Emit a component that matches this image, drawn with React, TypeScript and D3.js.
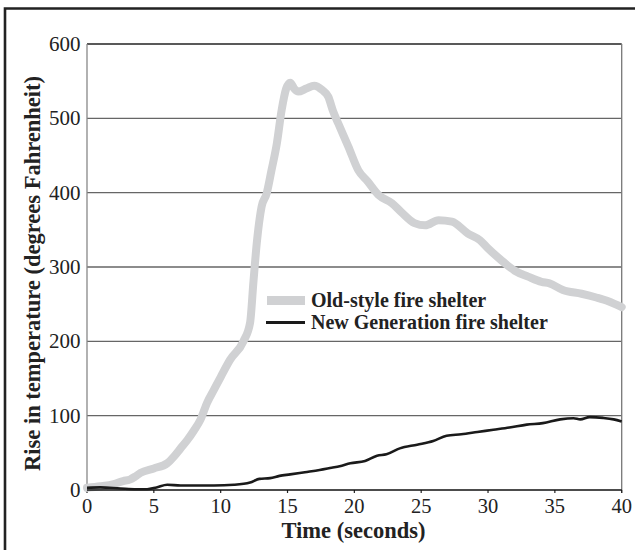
import React from "react";
import * as d3 from "d3";

const oldTime = [0, 1, 2, 2.7, 3.2, 3.6, 4, 5, 6, 6.5, 7, 7.5, 8, 8.5, 9, 9.5, 10, 10.7, 11.7, 12.2, 12.45, 12.7, 13.06, 13.44, 13.8, 14.2, 14.56, 14.9, 15.2, 15.5, 15.8, 16.4, 17.0, 17.6, 18.05, 18.4, 18.8, 19.55, 20.3, 21.0, 21.8, 22.8, 23.5, 24.5, 25.3, 26.3, 27.3, 28.5, 29.4, 30.0, 31.0, 32.0, 33.0, 34.0, 34.6, 35.6, 37, 38.1, 39.0, 40];
const oldValue = [3, 5, 8, 12, 14, 18, 23, 29, 36, 45, 56, 67, 80, 95, 118, 135, 152, 175, 200, 225, 280, 332, 381, 399, 430, 466, 511, 540, 548, 540, 536, 540, 544, 538, 529, 510, 493, 462, 430, 415, 397, 386, 374, 359, 356, 363, 361, 345, 336, 325, 309, 295, 287, 280, 278, 269, 264, 259, 254, 246];

const newTime = [0, 1, 2.5, 3.7, 4.5, 5.2, 6, 7, 9.5, 11, 12.2, 12.9, 13.7, 14.4, 15.2, 16.3, 17.4, 18.3, 18.9, 19.7, 20.8, 21.7, 22.4, 23.4, 24.7, 25.9, 26.9, 28.0, 29.2, 30.4, 31.6, 32.9, 34.1, 35.4, 36.4, 36.9, 37.6, 38.6, 39.4, 40];
const newValue = [3, 3.5, 2, 1, 1, 3.5, 7, 6, 6, 7, 10, 15, 16, 19, 21, 24, 27, 30, 32, 36, 39, 46, 48, 56, 61, 66, 73, 75, 78, 81, 84, 88, 90, 95, 96.5, 95, 98, 97, 95, 92];

const xTicks = [0, 5, 10, 15, 20, 25, 30, 35, 40];
const yTicks = [0, 100, 200, 300, 400, 500, 600];
const seriesNames = ["Old-style fire shelter", "New Generation fire shelter"];
const xTitle = "Time (seconds)";
const yTitle = "Rise in temperature (degrees Fahrenheit)";

const W = 635;
const H = 550;
const left = 87;
const right = 621.7;
const top = 44;
const bottom = 490;
const FONT = "'Liberation Serif', 'Times New Roman', serif";

export default function App() {
  const x = d3.scaleLinear().domain([0, 40]).range([left, right]);
  const y = d3.scaleLinear().domain([0, 600]).range([bottom, top]);
  const line = d3
    .line<[number, number]>()
    .x((d) => x(d[0]))
    .y((d) => y(d[1]))
    .curve(d3.curveMonotoneX);
  const oldData: [number, number][] = oldTime.map((t, i) => [t, oldValue[i]]);
  const newData: [number, number][] = newTime.map((t, i) => [t, newValue[i]]);

  return (
    <svg
      width={W}
      height={H}
      style={{ position: "absolute", left: 0, top: 0, background: "#fff" }}
      fontFamily={FONT}
    >
      <rect x={0} y={0} width={W} height={H} fill="#fff" />
      {/* outer frame */}
      <path d={`M5,${H + 5} L5,8.5 L${W + 5},8.5`} fill="none" stroke="#222" strokeWidth={2.6} />

      {/* gridlines */}
      {yTicks.filter((v) => v > 0).map((v) => (
        <line
          key={v}
          x1={left}
          x2={right}
          y1={y(v)}
          y2={y(v)}
          stroke={v === 600 ? "#222" : "#666"}
          strokeWidth={1.3}
        />
      ))}
      {/* left axis */}
      <line x1={left} x2={left} y1={top} y2={bottom} stroke="#888" strokeWidth={1.3} />
      {/* right border */}
      <line x1={right} x2={right} y1={top} y2={bottom + 3} stroke="#777" strokeWidth={1.3} />

      {/* y tick labels */}
      {yTicks.map((v) => (
        <text key={v} x={80.5} y={y(v)} dy="0.34em" textAnchor="end" fontSize={21} fill="#222">
          {v}
        </text>
      ))}
      {/* x ticks and labels */}
      {xTicks.map((t) => (
        <g key={t}>
          <line x1={x(t)} x2={x(t)} y1={bottom} y2={bottom + 3} stroke="#222" strokeWidth={1.2} />
          <text x={x(t)} y={513} textAnchor="middle" fontSize={20.5} fill="#222">
            {t}
          </text>
        </g>
      ))}

      {/* series */}
      <path d={line(oldData) || ""} fill="none" stroke="#d0d1d3" strokeWidth={8} strokeLinejoin="round" strokeLinecap="round" />
      <line x1={left} x2={right} y1={bottom} y2={bottom} stroke="#111" strokeWidth={1.4} />
      <path d={line(newData) || ""} fill="none" stroke="#1a1a1a" strokeWidth={2.6} strokeLinejoin="round" />

      {/* legend */}
      <line x1={267} x2={305} y1={300.5} y2={300.5} stroke="#d0d1d3" strokeWidth={9} />
      <text x={311} y={300.5} dy="0.33em" fontSize={20} fontWeight="bold" fill="#222">
        {seriesNames[0]}
      </text>
      <line x1={266} x2={305} y1={322.5} y2={322.5} stroke="#1a1a1a" strokeWidth={3} />
      <text x={311} y={322.5} dy="0.33em" fontSize={20} fontWeight="bold" fill="#222">
        {seriesNames[1]}
      </text>

      {/* axis titles */}
      <text x={353.5} y={538} textAnchor="middle" fontSize={22.5} fontWeight="bold" fill="#222">
        {xTitle}
      </text>
      <text
        transform={`translate(40,273.5) rotate(-90)`}
        textAnchor="middle"
        fontSize={22.5}
        fontWeight="bold"
        fill="#222"
      >
        {yTitle}
      </text>
    </svg>
  );
}
